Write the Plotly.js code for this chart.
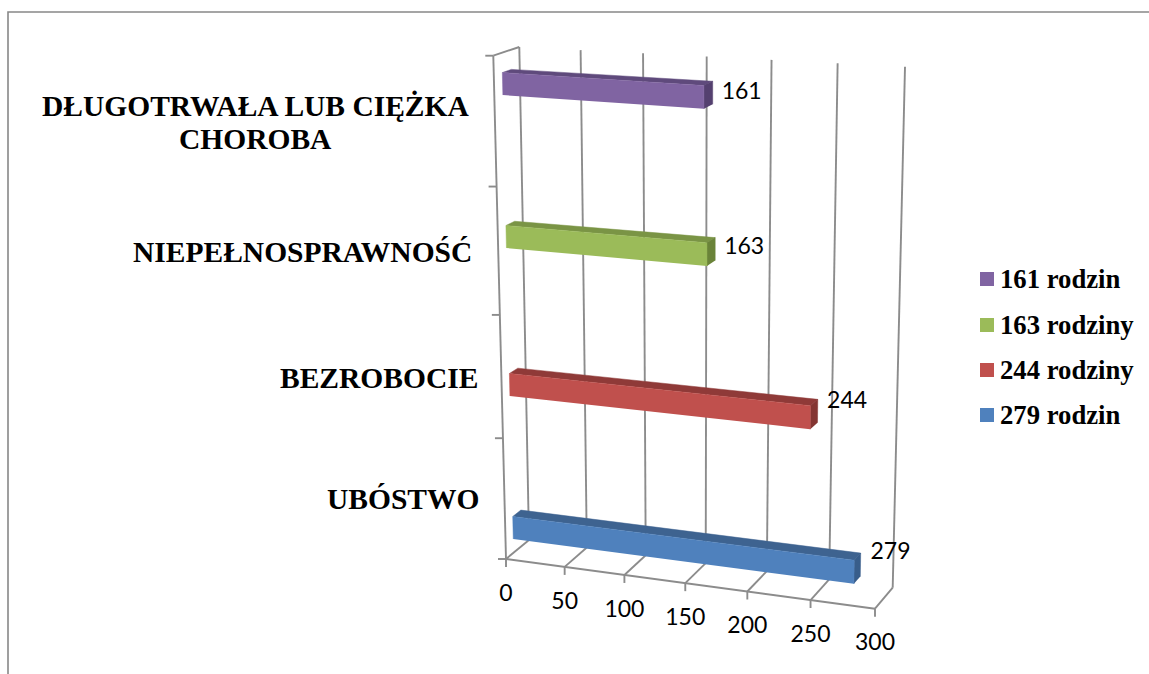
<!DOCTYPE html>
<html><head><meta charset="utf-8">
<script src="https://cdn.plot.ly/plotly-3.0.1.min.js"></script>
<style>html,body{margin:0;padding:0;background:#fff}#c{width:1149px;height:674px}</style>
</head><body><div id="c"></div>
<script>
const categories = ['UBÓSTWO','BEZROBOCIE','NIEPEŁNOSPRAWNOŚĆ','DŁUGOTRWAŁA LUB CIĘŻKA<br>CHOROBA'];
const values = [279,244,163,161];
const seriesNames = ['279 rodzin','244 rodziny','163 rodziny','161 rodzin'];
const valueTicks = [0,50,100,150,200,250,300];
const frontColors = ['#4F81BD','#C0504D','#9BBB59','#8064A2'];
const topColors = ['#3E6390','#8F3A38','#7A9445','#5F4A7C'];
const endColors = ['#385D8A','#843532','#6A8339','#54406F'];

// Corners of the Excel-style 3D box as it lies on the page
const W=1149,H=674;
const box={f0:[506,559],f1:[875,608.7],b0:[529,540],b1:[892.7,587.7],
           t0:[519.3,47],t1:[905,66.7],u0:[493.3,55.7],u1:[880,81.7]};
const lerp=(a,b,t)=>[a[0]+(b[0]-a[0])*t,a[1]+(b[1]-a[1])*t];
function frac(v){const u=v/300;return .945*u/(1-.055*u);}
// value v, height h (0 floor..1 top), depth d (0 front..1 back wall)
function P(v,h,d){
  const s=frac(v);
  const lo=lerp(lerp(box.f0,box.f1,s),lerp(box.b0,box.b1,s),d);
  const hi=lerp(lerp(box.u0,box.u1,s),lerp(box.t0,box.t1,s),d);
  return lerp(lo,hi,h);
}
const catTicks=[0,.24,.485,.74,1];
const barCentre=[.05,.336,.632,.938], barHalf=.0225, d0=.33, d1=.68;
const labelShift=[[30,-12],[29.5,-9],[29,-1],[29,0]];
const tickLabelDrop=36;
const gridCol='#8C8C8C', serif='"Liberation Serif", serif', sans='Lato, sans-serif';

const traces=[];
function line(pts,w){traces.push({type:'scatter',mode:'lines',x:pts.map(p=>p[0]),y:pts.map(p=>p[1]),
  line:{color:gridCol,width:w||1.9},hoverinfo:'skip',showlegend:false});}
function poly(pts,color,name){traces.push({type:'scatter',mode:'lines',fill:'toself',fillcolor:color,name:name,
  x:pts.map(p=>p[0]),y:pts.map(p=>p[1]),line:{color:color,width:0.5},hoverinfo:'skip',showlegend:false});}
function label(p,text,size,font,color){traces.push({type:'scatter',mode:'text',x:[p[0]],y:[p[1]],text:[text],
  textposition:'middle center',textfont:{family:font,size:size,color:color||'#000'},hoverinfo:'skip',showlegend:false});}

// frame
traces.push({type:'scatter',mode:'lines',x:[8,8,W],y:[H,12,12],line:{color:'#888',width:1.6},hoverinfo:'skip',showlegend:false});
// back wall + floor + axes
valueTicks.forEach(v=>{
  line([P(v,0,1),P(v,1,1)]);
  line([P(v,0,0),P(v,0,1)]);
  const a=P(v,0,0); line([a,[a[0],a[1]+8]]);
  label([a[0],a[1]+tickLabelDrop],String(v),23,sans);
});
line([P(0,0,0),P(300,0,0)]);
line([P(0,0,0),P(0,1,0)]);
line([P(0,1,0),P(0,1,1)]);
catTicks.forEach(h=>{const a=P(0,h,0);line([a,[a[0]-8,a[1]]]);});
// bars
values.forEach((v,i)=>{
  const lo=barCentre[i]-barHalf, hi=barCentre[i]+barHalf;
  poly([P(0,hi,d0),P(0,hi,d1),P(v,hi,d1),P(v,hi,d0)],topColors[i],seriesNames[i]+' top');
  poly([P(v,lo,d0),P(v,hi,d0),P(v,hi,d1),P(v,lo,d1)],endColors[i],seriesNames[i]+' end');
  poly([P(0,lo,d0),P(0,hi,d0),P(v,hi,d0),P(v,lo,d0)],frontColors[i],seriesNames[i]);
  const e=P(v,barCentre[i],d1);
  label([e[0]+labelShift[i][0],e[1]+labelShift[i][1]],String(v),23,sans);
});
// category labels (right edge follows the axis; the long one is centred on two lines)
const catAnchors=[[481,499],[480,378],[474,252],[255.5,106]];
const lineGap=33;
const annotations=[];
categories.forEach((c,i)=>{
  c.split('<br>').forEach((part,k)=>annotations.push({xref:'x',yref:'y',x:catAnchors[i][0],y:catAnchors[i][1]+k*lineGap,
    text:'<b>'+part+'</b>',showarrow:false,xanchor:i==3?'center':'right',yanchor:'middle',align:'center',
    font:{family:serif,size:29.5,color:'#000'}}));
});
// legend
const legendY=[415,370,325,279];
seriesNames.forEach((n,i)=>{
  traces.push({type:'scatter',mode:'markers',x:[987],y:[legendY[i]],marker:{symbol:'square',size:14,color:frontColors[i],line:{width:0}},hoverinfo:'skip',showlegend:false});
  annotations.push({xref:'x',yref:'y',x:998,y:legendY[i],text:'<b>'+n+'</b>',showarrow:false,xanchor:'left',yanchor:'middle',
    font:{family:serif,size:26.7,color:'#000'}});
});
Plotly.newPlot('c',traces,{width:W,height:H,margin:{l:0,r:0,t:0,b:0},paper_bgcolor:'#fff',plot_bgcolor:'#fff',showlegend:false,
  xaxis:{range:[0,W],visible:false,fixedrange:true},yaxis:{range:[H,0],visible:false,fixedrange:true},annotations},{displayModeBar:false,staticPlot:true});
</script></body></html>
